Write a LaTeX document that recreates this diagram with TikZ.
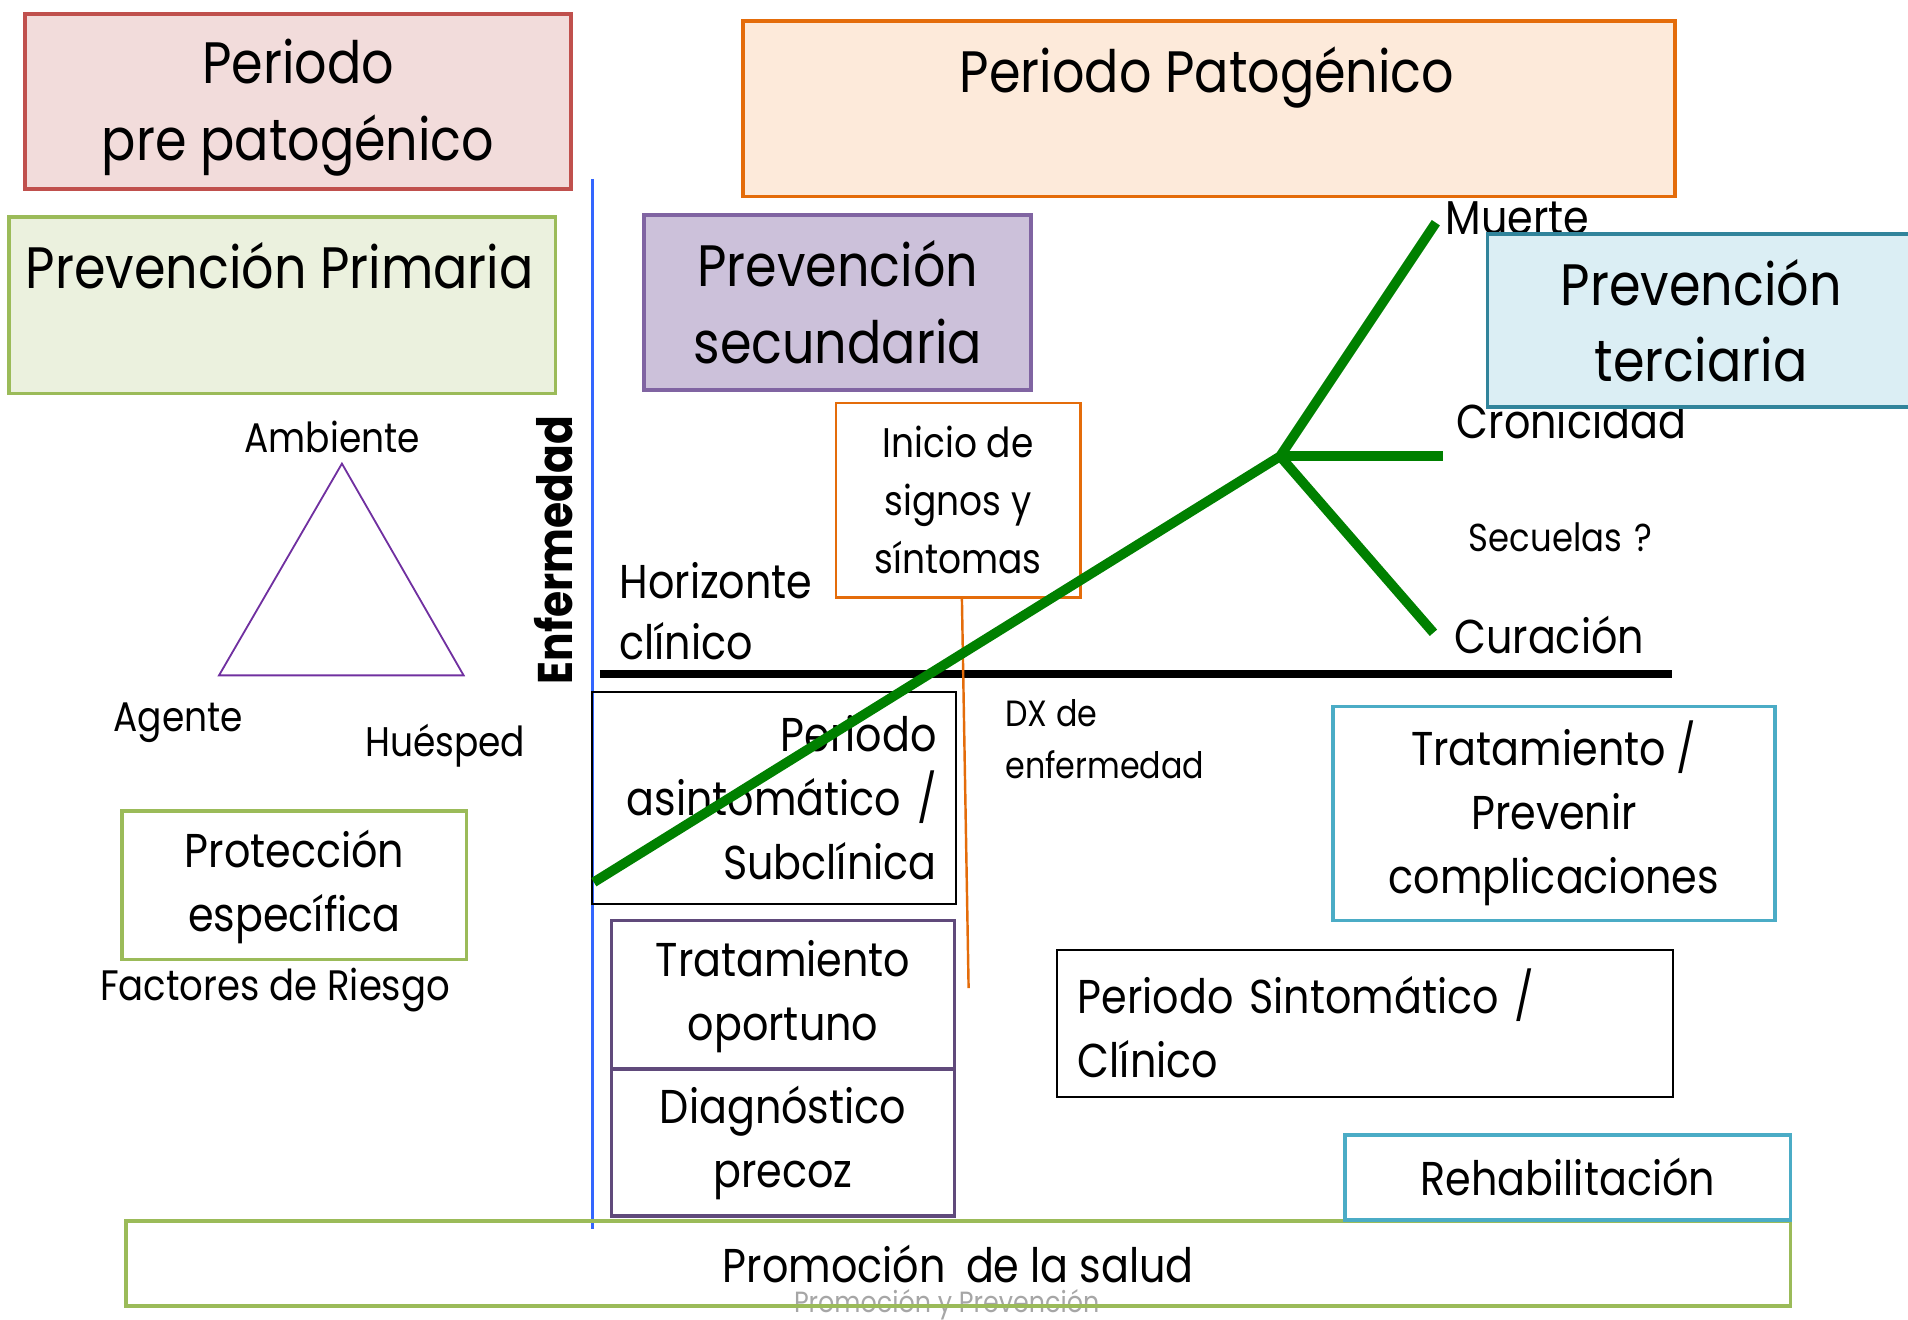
\documentclass[tikz,border=0pt]{standalone}
\usepackage{fontspec}
\setmainfont[FakeStretch = 0.87]{Poppins}
\usetikzlibrary{positioning}

\definecolor{preborder}{HTML}{C0504D}
\definecolor{prefill}{HTML}{F2DCDB}
\definecolor{patborder}{HTML}{E46C0A}
\definecolor{patfill}{HTML}{FDEADA}
\definecolor{primborder}{HTML}{9BBB59}
\definecolor{primfill}{HTML}{EBF1DE}
\definecolor{secborder}{HTML}{8064A2}
\definecolor{secfill}{HTML}{CCC1DA}
\definecolor{terborder}{HTML}{31849B}
\definecolor{terfill}{HTML}{DBEEF4}
\definecolor{tealborder}{HTML}{4BACC6}
\definecolor{darkpurple}{HTML}{604A7B}
\definecolor{triline}{HTML}{7030A0}
\definecolor{curve}{HTML}{008000}
\definecolor{axisblue}{HTML}{3366FF}

\newcommand{\szA}{\fontsize{48}{63}\selectfont}
\newcommand{\szB}{\fontsize{39}{52.5}\selectfont}
\newcommand{\szC}{\fontsize{34}{47.5}\selectfont}
\newcommand{\szD}{\fontsize{30}{42}\selectfont}

\tikzset{
	box/.style = {draw = #1, line width = 3pt, inner sep = 0pt, align = center, anchor = north west},
	thinbox/.style = {draw = black, line width = 1.5pt, inner sep = 0pt, anchor = north west},
	lbl/.style = {inner sep = 0pt, font = \szB},
}

\begin{document}
\begin{tikzpicture}[x = 1pt, y = -1pt]
	\useasboundingbox (0, 0) rectangle (1568, 1084);
	
	% pie de pagina
	\node[inner sep = 0pt, anchor = base, font = \fontsize{24}{28}\selectfont, text = gray!70] (footer) at (778, 1079) {Promoción y Prevención};
	
	\draw[axisblue, line width = 3pt] (487, 147) -- (487, 1010);
	
	\node[box = primborder, minimum width = 1368pt, minimum height = 70pt, font = \szB] (promo) at (102, 1002) {Promoción\hspace{0.2em} de la salud};
	
	% periodos
	\node[box = preborder, fill = prefill, minimum width = 449pt, minimum height = 144pt, font = \szA] (prepat) at (19, 10) {\rule{0pt}{46pt}Periodo\\pre patogénico};
	\node[box = patborder, fill = patfill, minimum width = 766pt, minimum height = 144pt] (patog) at (609, 16) {};
	\node[anchor = base, inner sep = 0pt, font = \szA] (patogtxt) at (992, 76) {Periodo Patogénico};
	
	% prevencion
	\node[box = primborder, fill = primfill, minimum width = 449pt, minimum height = 145pt] (prim) at (6, 177) {};
	\node[anchor = base, inner sep = 0pt, font = \szA] (primtxt) at (230, 237) {Prevención Primaria};
	\node[box = secborder, fill = secfill, minimum width = 318pt, minimum height = 144pt, font = \szA] (secund) at (528, 175) {Prevención\\secundaria};
	
	\node[box = primborder, minimum width = 283pt, minimum height = 122pt, font = \szB] (protec) at (99, 665) {\rule{0pt}{33pt}Protección\\específica};
	\node[box = darkpurple, minimum width = 282pt, minimum height = 122pt, font = \szB] (tratop) at (501, 755) {\rule{0pt}{33pt}Tratamiento\\oportuno};
	\node[box = darkpurple, minimum width = 282pt, minimum height = 121pt, font = \szB] (diagn) at (501, 877) {Diagnóstico\\precoz};
	\node[box = tealborder, fill = white, minimum width = 363pt, minimum height = 176pt, font = \szB] (tratprev) at (1094, 579) {Tratamiento /\\Prevenir\\complicaciones};
	\node[box = tealborder, fill = white, minimum width = 366pt, minimum height = 70pt, font = \szB] (rehab) at (1104, 931) {Rehabilitación};
	
	\node[thinbox, minimum width = 299pt, minimum height = 174pt, text width = 267pt, inner xsep = 16pt, align = right, font = \szB] (asint) at (486, 568) {Periodo\\asintomático /\\Subclínica};
	\node[thinbox, fill = white, minimum width = 506pt, minimum height = 121pt, text width = 472pt, inner xsep = 17pt, align = left, font = \szB] (sintom) at (868, 780) {Periodo Sintomático /\\Clínico};
	\node[box = patborder, fill = white, line width = 2pt, minimum width = 201pt, minimum height = 160pt, font = \szC] (inicio) at (686, 330) {Inicio de\\signos y\\síntomas};
	
	% triada
	\draw[triline, line width = 1.5pt] (281, 381) -- (381, 555) -- (180, 555) -- cycle;
	\node[lbl, font = \szC, anchor = base] (ambiente) at (273, 372) {Ambiente};
	\node[lbl, font = \szC, anchor = base west] (agente) at (93, 601) {Agente};
	\node[lbl, font = \szC, anchor = base west] (huesped) at (300, 622) {Huésped};
	\node[lbl, font = \fontsize{35}{47.5}\selectfont, anchor = base west] (factores) at (82, 822) {Factores de Riesgo};
	
	\node[lbl, font = \fontsize{40}{48}\selectfont\bfseries, rotate = 90] (enferm) at (455, 452) {Enfermedad};
	\node[lbl, font = \fontsize{39}{50}\selectfont, align = left, anchor = north west] (horiz) at (509, 462) {Horizonte\\clínico};
	\node[lbl, font = \szD, align = left, anchor = north west] (dx) at (826, 575) {DX de\\enfermedad};
	
	% desenlaces
	\node[lbl, anchor = base west] (muerte) at (1188, 193) {Muerte};
	\node[lbl, anchor = base west] (cronic) at (1197, 360) {Cronicidad};
	\node[lbl, anchor = base west, font = \fontsize{32}{40}\selectfont] (secuelas) at (1207, 453) {Secuelas\hspace{0.1em} ?};
	\node[lbl, anchor = base west] (curacion) at (1195, 537) {Curación};
	
	\node[box = terborder, fill = terfill, minimum width = 351pt, minimum height = 142pt, font = \szA] (terc) at (1221, 191) {Prevención\\terciaria};
	
	% horizonte clinico
	\coordinate (horizL) at (493, 554);
	\coordinate (horizR) at (1374, 554);
	\draw[black, line width = 7pt] (horizL) -- (horizR);
	
	\coordinate (dxend) at (796, 812);
	\draw[patborder, line width = 2pt] ([xshift = 3pt]inicio.south) -- (dxend);
	
	% historia natural
	\coordinate (inicio0) at (488, 725);
	\coordinate (fork) at (1052, 375);
	\coordinate (muerteend) at (1180, 183);
	\coordinate (cronend) at (1186, 375);
	\coordinate (curaend) at (1178, 520);
	\draw[curve, line width = 8pt] (inicio0) -- (fork) -- (muerteend);
	\draw[curve, line width = 8pt] (fork) -- (cronend);
	\draw[curve, line width = 8pt] (fork) -- (curaend);
\end{tikzpicture}
\end{document}
